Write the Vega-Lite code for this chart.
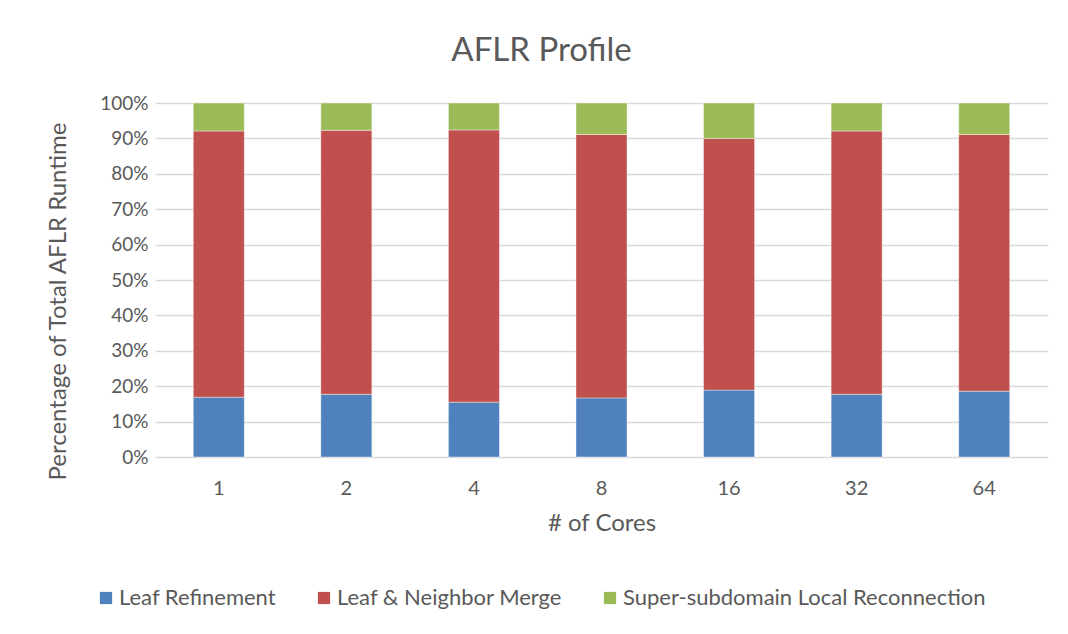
{
  "$schema": "https://vega.github.io/schema/vega-lite/v6.json",
  "autosize": "none",
  "width": 893,
  "height": 354,
  "padding": {"left": 155, "top": 103, "right": 20, "bottom": 177},
  "background": "white",
  "title": {"text": "AFLR Profile", "fontSize": 33, "font": "Lato", "fontWeight": "normal", "color": "#595959", "offset": 26, "dx": -60},
  "data": {"values": [
    {"cores": "1", "segment": "Leaf Refinement", "o": 1, "v": 16.9},
    {"cores": "1", "segment": "Leaf & Neighbor Merge", "o": 2, "v": 75.2},
    {"cores": "1", "segment": "Super-subdomain Local Reconnection", "o": 3, "v": 7.9},
    {"cores": "2", "segment": "Leaf Refinement", "o": 1, "v": 17.7},
    {"cores": "2", "segment": "Leaf & Neighbor Merge", "o": 2, "v": 74.6},
    {"cores": "2", "segment": "Super-subdomain Local Reconnection", "o": 3, "v": 7.7},
    {"cores": "4", "segment": "Leaf Refinement", "o": 1, "v": 15.5},
    {"cores": "4", "segment": "Leaf & Neighbor Merge", "o": 2, "v": 76.9},
    {"cores": "4", "segment": "Super-subdomain Local Reconnection", "o": 3, "v": 7.6},
    {"cores": "8", "segment": "Leaf Refinement", "o": 1, "v": 16.7},
    {"cores": "8", "segment": "Leaf & Neighbor Merge", "o": 2, "v": 74.4},
    {"cores": "8", "segment": "Super-subdomain Local Reconnection", "o": 3, "v": 8.9},
    {"cores": "16", "segment": "Leaf Refinement", "o": 1, "v": 18.9},
    {"cores": "16", "segment": "Leaf & Neighbor Merge", "o": 2, "v": 71.1},
    {"cores": "16", "segment": "Super-subdomain Local Reconnection", "o": 3, "v": 10.0},
    {"cores": "32", "segment": "Leaf Refinement", "o": 1, "v": 17.7},
    {"cores": "32", "segment": "Leaf & Neighbor Merge", "o": 2, "v": 74.4},
    {"cores": "32", "segment": "Super-subdomain Local Reconnection", "o": 3, "v": 7.9},
    {"cores": "64", "segment": "Leaf Refinement", "o": 1, "v": 18.6},
    {"cores": "64", "segment": "Leaf & Neighbor Merge", "o": 2, "v": 72.5},
    {"cores": "64", "segment": "Super-subdomain Local Reconnection", "o": 3, "v": 8.9}
  ]},
  "mark": {"type": "bar", "stroke": "white", "strokeOpacity": 0.4, "strokeWidth": 1},
  "encoding": {
    "x": {
      "field": "cores", "type": "ordinal", "sort": ["1", "2", "4", "8", "16", "32", "64"],
      "scale": {"paddingInner": 0.6, "paddingOuter": 0.3},
      "axis": {"title": "# of Cores", "labelAngle": 0, "labelFontSize": 20, "labelPadding": 21, "titleFontSize": 24, "titlePadding": 13, "domain": false, "ticks": false, "labelColor": "#595959", "titleColor": "#595959", "labelFont": "Lato", "titleFont": "Lato", "titleFontWeight": "normal"}
    },
    "y": {
      "field": "v", "type": "quantitative", "stack": "normalize",
      "scale": {"domain": [0, 1]},
      "axis": {"title": "Percentage of Total AFLR  Runtime", "format": "%", "values": [0, 0.1, 0.2, 0.3, 0.4, 0.5, 0.6, 0.7, 0.8, 0.9, 1], "labelOverlap": false, "labelFontSize": 19, "labelPadding": 7, "titleFontSize": 24, "titleX": -97, "titleY": 198, "titleAngle": 270, "titleAlign": "center", "titleBaseline": "middle", "domain": false, "ticks": false, "gridColor": "#d9d9d9", "gridWidth": 1.5, "labelColor": "#595959", "titleColor": "#595959", "labelFont": "Lato", "titleFont": "Lato", "titleFontWeight": "normal"}
    },
    "color": {
      "field": "segment", "type": "nominal",
      "sort": ["Leaf Refinement", "Leaf & Neighbor Merge", "Super-subdomain Local Reconnection"],
      "scale": {"domain": ["Leaf Refinement", "Leaf & Neighbor Merge", "Super-subdomain Local Reconnection"], "range": ["#4F81BD", "#C0504D", "#9BBB59"]},
      "legend": {"title": null, "orient": "none", "direction": "horizontal", "legendX": -60, "legendY": 484, "symbolType": "square", "symbolSize": 150, "symbolStrokeWidth": 0, "labelFontSize": 22, "labelFont": "Lato", "labelColor": "#595959", "columnPadding": 36, "labelOffset": 2, "labelLimit": 500}
    },
    "order": {"field": "o", "type": "quantitative"}
  },
  "config": {"view": {"stroke": null}}
}
